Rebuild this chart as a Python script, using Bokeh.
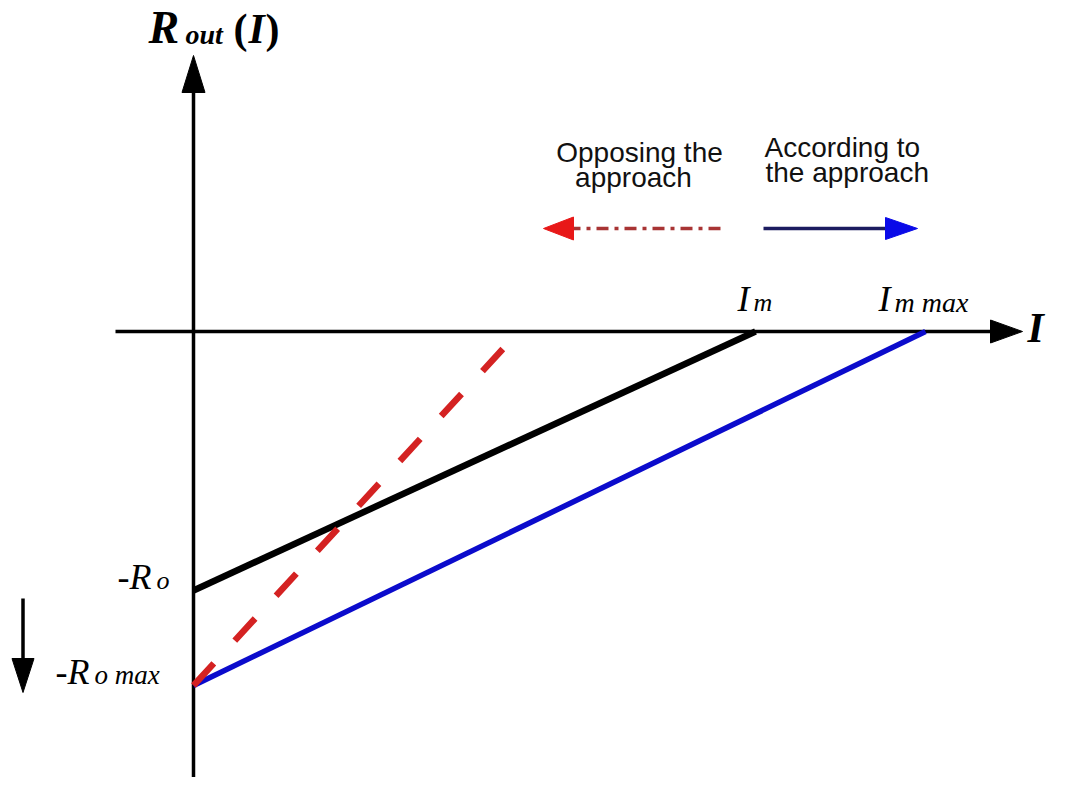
from bokeh.plotting import figure
from bokeh.models import Range1d
from bokeh.core.properties import value
from bokeh.embed import file_html
from bokeh.resources import INLINE

# ---- chart values (units: 1 unit = 100 px in the reference) ----
Im = 5.62          # I_m
Im_max = 7.32      # I_m max
Ro = 2.59          # R_o
Ro_max = 3.54      # R_o max
black_I = [0.0, Im]
black_R = [-Ro, 0.0]
blue_I = [0.0, Im_max]
blue_R = [-Ro_max, 0.0]
red_I = [0.0, 3.19]
red_R = [-Ro_max, -0.07]

# ---- helpers converting reference pixel positions to data units ----
OX, OY = 193.0, 331.0
def X(px):
    return (px - OX) / 100.0
def Y(py):
    return (OY - py) / 100.0

W, H = 1051, 777
p = figure(width=W, height=H, output_backend="svg", toolbar_location=None,
           x_range=Range1d(X(0), X(W)), y_range=Range1d(Y(H), Y(0)),
           min_border=0)
p.axis.visible = False
p.grid.visible = False
p.outline_line_color = None
p.background_fill_color = "white"
p.border_fill_color = "white"

def head(tx, ty, dx, dy, length_px, width_px):
    L = length_px / 100.0
    Wd = width_px / 200.0
    bx, by = tx - dx * L, ty - dy * L
    nx, ny = -dy, dx
    return [tx, bx + nx * Wd, bx - nx * Wd], [ty, by + ny * Wd, by - ny * Wd]

# axes
p.line([0, 0], [Y(800), Y(80)], line_color="black", line_width=3.5)
p.line([X(115), X(1000)], [0, 0], line_color="black", line_width=3.5)
hx1, hy1 = head(0, Y(55), 0, 1, 37, 23)
hx2, hy2 = head(X(1022), 0, 1, 0, 32, 23)
p.patch(hx1, hy1, color="black")
p.patch(hx2, hy2, color="black")

# data lines
p.line(black_I, black_R, line_color="black", line_width=6.5)
p.line(blue_I, blue_R, line_color="#0b0bcc", line_width=5.5)
p.line(red_I, red_R, line_color="#d42222", line_width=6.5, line_dash="30 31")

# legend-like arrows
p.line([X(720), X(570)], [Y(228), Y(228)], line_color="#a83434", line_width=3.5,
       line_dash="12 6 4 6")
rx, ry = head(X(543), Y(228), -1, 0, 30, 23)
p.patch(rx, ry, color="#e81818")
p.line([X(763), X(890)], [Y(228), Y(228)], line_color="#1c1c60", line_width=3.5)
bx, by = head(X(917), Y(228), 1, 0, 32, 22)
p.patch(bx, by, color="#0a0ae8")

# down arrow on the left
p.line([X(22.5), X(22.5)], [Y(598), Y(665)], line_color="black", line_width=3.5)
dx_, dy_ = head(X(22.5), Y(692), 0, -1, 34, 22)
p.patch(dx_, dy_, color="black")

serif = value("Liberation Serif")
sans = value("Liberation Sans")

def txt(px, py, s, size, style="normal", font=serif, align="left", color="black"):
    # py is the wanted baseline; compensate the renderer's baseline placement
    yy = py - 0.375 * size
    p.text(x=[X(px)], y=[Y(yy)], text=[s], text_font=font, text_font_size=f"{size}px",
           text_font_style=style, text_align=align, text_baseline="alphabetic",
           text_color=color)

# y-axis title R_out (I)
txt(148, 44, "R", 46, "bold italic")
txt(185, 44, "out", 28, "bold italic")
txt(233, 44, "(", 42, "bold")
txt(248, 44, "I", 42, "bold italic")
txt(265, 44, ")", 42, "bold")
# x-axis title
txt(1027, 343, "I", 42, "bold italic")

# Im labels
txt(737, 312, "I", 36, "italic")
txt(753, 312, "m", 26, "italic")
txt(878, 312, "I", 36, "italic")
txt(894, 312, "m max", 28, "italic")

# Ro labels
txt(117, 590, "-R", 36, "italic")
txt(156, 590, "o", 26, "italic")
txt(55, 685, "-R", 36, "italic")
txt(94, 685, "o max", 27, "italic")

# approach texts
txt(639, 162, "Opposing the", 28, font=sans, align="center", color="#111111")
txt(633, 187, "approach", 28, font=sans, align="center", color="#111111")
txt(764, 157, "According to", 28, font=sans, color="#111111")
txt(765, 182, "the approach", 28, font=sans, color="#111111")

open("out.html", "w").write(file_html(p, INLINE))
